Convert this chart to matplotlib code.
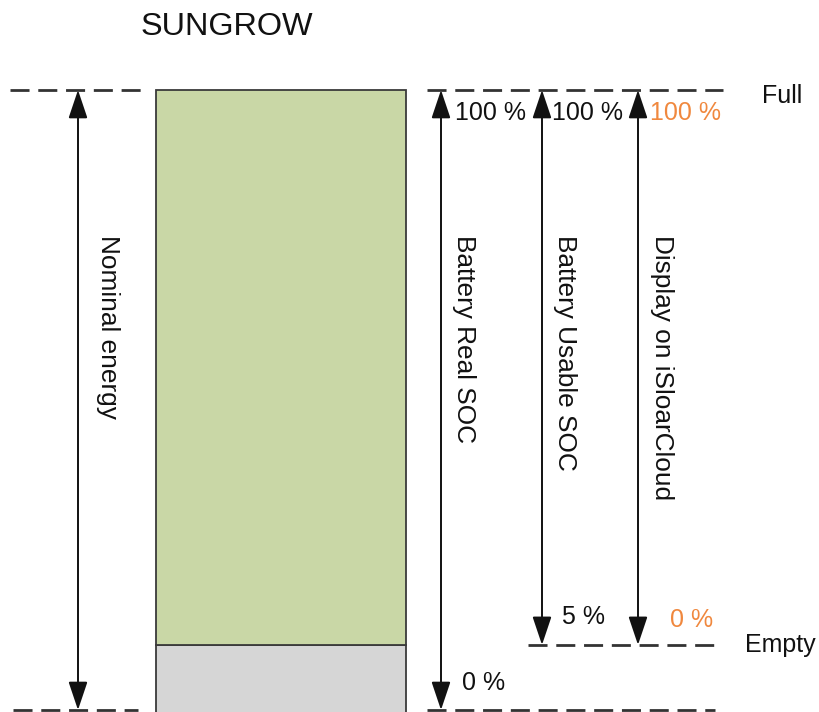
import matplotlib
matplotlib.use("Agg")
import matplotlib.pyplot as plt

plt.rcParams['font.family'] = ['Liberation Sans', 'DejaVu Sans']
plt.rcParams['lines.scale_dashes'] = False

# ---- data ----
title = "SUNGROW"
full_level = 100.0          # real SOC at "Full"
empty_level = 10.5          # real SOC at "Empty" (reserve, drawn as grey)
bar_segments = [empty_level, full_level - empty_level]   # reserve, usable
scale_names = ["Nominal energy", "Battery Real SOC", "Battery Usable SOC", "Display on iSloarCloud"]
scale_top = [full_level, full_level, full_level, full_level]
scale_bottom = [0.0, 0.0, empty_level, empty_level]
top_labels = ["", "100 %", "100 %", "100 %"]
bottom_labels = ["", "0 %", "5 %", "0 %"]
label_colors = ["#111111", "#111111", "#111111", "#f0883e"]
level_names = ["Full", "Empty"]
level_values = [full_level, empty_level]

# ---- layout ----
W, H = 819, 712
PX0, PXS = 710.0, 6.2        # pixel of 0 %, pixels per %
def v(p):                    # pixel row -> SOC units
    return (PX0 - p) / PXS

fig = plt.figure(figsize=(W / 100, H / 100), dpi=100)
ax = fig.add_axes([0, 0, 1, 1])
ax.set_xlim(0, W)
ax.set_ylim(v(H), v(0))
ax.axis('off')

green = "#c9d7a6"
grey = "#d6d6d6"
edge = "#3a3a3a"
line_c = "#333333"

# bar
bar_x, bar_w = 281, 250
ax.bar(bar_x, bar_segments[0] - v(H + 20), bottom=v(H + 20), width=bar_w,
       color=grey, edgecolor=edge, linewidth=1.3, zorder=2)
ax.bar(bar_x, bar_segments[1], bottom=bar_segments[0], width=bar_w,
       color=green, edgecolor=edge, linewidth=1.3, zorder=3)

# dashed level lines
dash = dict(color=line_c, lw=2.0, dashes=(13.7, 6.3), zorder=1)
ax.plot([10, 142], [full_level] * 2, **dash)
ax.plot([427, 723], [full_level] * 2, **dash)
ax.plot([13, 138], [0, 0], **dash)
ax.plot([427, 715], [0, 0], **dash)
ax.plot([528, 715], [empty_level] * 2, **dash)

# arrows + labels
arrow_x = [78, 441, 542, 638]
name_x = [108, 464, 565, 662]
pct_x = [0, 455, 552, 650]
bot_x = [0, 462, 562, 670]
bot_y = [0, 683, 617, 620]
fs = 18
fs_rot = 18.9
for i, name in enumerate(scale_names):
    ax.annotate("", xy=(arrow_x[i], scale_top[i]), xytext=(arrow_x[i], scale_bottom[i]),
                arrowprops=dict(arrowstyle="<|-|>,head_length=1.25,head_width=0.42",
                                mutation_scale=14, color="#111111", lw=1.4,
                                shrinkA=0, shrinkB=0), zorder=4)
    ax.text(name_x[i], v(235), name, rotation=-90, ha='center', va='top',
            fontsize=fs_rot, color="#111111")
    if top_labels[i]:
        ax.text(pct_x[i], v(113), top_labels[i], ha='left', va='center',
                fontsize=fs, color=label_colors[i])
    if bottom_labels[i]:
        ax.text(bot_x[i], v(bot_y[i]), bottom_labels[i], ha='left', va='center',
                fontsize=fs, color=label_colors[i])

ax.text(762, v(96), level_names[0], ha='left', va='center', fontsize=fs, color="#111111")
ax.text(745, v(645), level_names[1], ha='left', va='center', fontsize=fs, color="#111111")

ax.text(227, v(27), title, ha='center', va='center', fontsize=23.3, color="#111111")

fig.savefig("out.png", dpi=100)
